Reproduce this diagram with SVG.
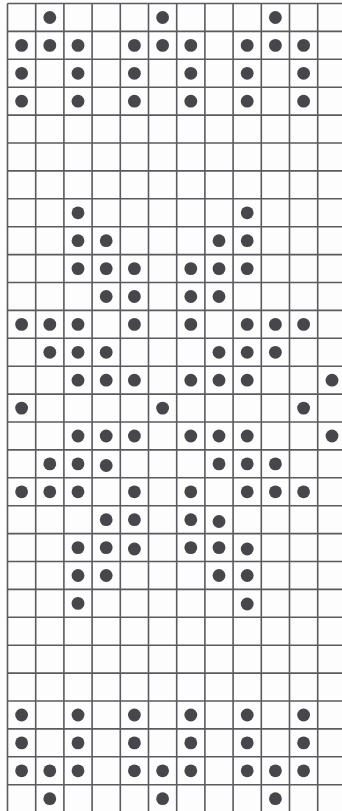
<svg xmlns="http://www.w3.org/2000/svg" xmlns:xlink="http://www.w3.org/1999/xlink" width="342" height="811" viewBox="0 0 342 811">
<style>
.grid{stroke:#5a5a60;stroke-width:1.6;fill:none}
.dot{fill:#46464c}
</style>
<defs>
<circle id="d" r="6.4" class="dot"/>
</defs>
<rect width="342" height="811" fill="#fdfdfd"/>
<g id="grid" class="grid">
<path d="M7.5 3.5V811M35.7 3.5V811M63.9 3.5V811M92.1 3.5V811M120.3 3.5V811M148.5 3.5V811M176.7 3.5V811M204.9 3.5V811M233.1 3.5V811M261.3 3.5V811M289.5 3.5V811M317.7 3.5V811"/>
<path d="M7.5 3.5H342M7.5 31.4H342M7.5 59.3H342M7.5 87.2H342M7.5 115.1H342M7.5 143H342M7.5 170.9H342M7.5 198.8H342M7.5 226.7H342M7.5 254.6H342M7.5 282.5H342M7.5 310.4H342M7.5 338.3H342M7.5 366.2H342M7.5 394.1H342M7.5 422H342M7.5 449.9H342M7.5 477.8H342M7.5 505.7H342M7.5 533.6H342M7.5 561.5H342M7.5 589.4H342M7.5 617.3H342M7.5 645.2H342M7.5 673.1H342M7.5 701H342M7.5 728.9H342M7.5 756.8H342M7.5 784.7H342"/>
</g>
<g id="dots">
<!-- row 0 y=17.5 -->
<use href="#d" x="49.8" y="17.5"/><use href="#d" x="162.6" y="17.5"/><use href="#d" x="275.4" y="17.5"/>
<!-- row 1 y=45.4 -->
<use href="#d" x="21.6" y="45.4"/><use href="#d" x="49.8" y="45.4"/><use href="#d" x="78" y="45.4"/><use href="#d" x="134.4" y="45.4"/><use href="#d" x="162.6" y="45.4"/><use href="#d" x="190.8" y="45.4"/><use href="#d" x="247.2" y="45.4"/><use href="#d" x="275.4" y="45.4"/><use href="#d" x="303.6" y="45.4"/>
<!-- row 2 y=73.3 -->
<use href="#d" x="21.6" y="73.3"/><use href="#d" x="78" y="73.3"/><use href="#d" x="134.4" y="73.3"/><use href="#d" x="190.8" y="73.3"/><use href="#d" x="247.2" y="73.3"/><use href="#d" x="303.6" y="73.3"/>
<!-- row 3 y=101.2 -->
<use href="#d" x="21.6" y="101.2"/><use href="#d" x="78" y="101.2"/><use href="#d" x="134.4" y="101.2"/><use href="#d" x="190.8" y="101.2"/><use href="#d" x="247.2" y="101.2"/><use href="#d" x="303.6" y="101.2"/>
<!-- row 7 y=212.8 -->
<use href="#d" x="78" y="212.8"/><use href="#d" x="247.2" y="212.8"/>
<!-- row 8 y=240.7 -->
<use href="#d" x="78" y="240.7"/><use href="#d" x="106.2" y="240.7"/><use href="#d" x="219" y="240.7"/><use href="#d" x="247.2" y="240.7"/>
<!-- row 9 y=268.6 -->
<use href="#d" x="78" y="268.6"/><use href="#d" x="106.2" y="268.6"/><use href="#d" x="134.4" y="268.6"/><use href="#d" x="190.8" y="268.6"/><use href="#d" x="219" y="268.6"/><use href="#d" x="247.2" y="268.6"/>
<!-- row 10 y=296.5 -->
<use href="#d" x="106.2" y="296.5"/><use href="#d" x="134.4" y="296.5"/><use href="#d" x="190.8" y="296.5"/><use href="#d" x="219" y="296.5"/>
<!-- row 11 y=324.4 -->
<use href="#d" x="21.6" y="324.4"/><use href="#d" x="49.8" y="324.4"/><use href="#d" x="78" y="324.4"/><use href="#d" x="134.4" y="324.4"/><use href="#d" x="190.8" y="324.4"/><use href="#d" x="247.2" y="324.4"/><use href="#d" x="275.4" y="324.4"/><use href="#d" x="303.6" y="324.4"/>
<!-- row 12 y=352.3 -->
<use href="#d" x="49.8" y="352.3"/><use href="#d" x="78" y="352.3"/><use href="#d" x="106.2" y="352.3"/><use href="#d" x="219" y="352.3"/><use href="#d" x="247.2" y="352.3"/><use href="#d" x="275.4" y="352.3"/>
<!-- row 13 y=380.2 -->
<use href="#d" x="78" y="380.2"/><use href="#d" x="106.2" y="380.2"/><use href="#d" x="134.4" y="380.2"/><use href="#d" x="190.8" y="380.2"/><use href="#d" x="219" y="380.2"/><use href="#d" x="247.2" y="380.2"/><use href="#d" x="332" y="380.2"/>
<!-- row 14 y=408.1 -->
<use href="#d" x="21.6" y="408.1"/><use href="#d" x="162.6" y="408.1"/><use href="#d" x="303.6" y="408.1"/>
<!-- row 15 y=436 -->
<use href="#d" x="78" y="436"/><use href="#d" x="106.2" y="436"/><use href="#d" x="134.4" y="436"/><use href="#d" x="190.8" y="436"/><use href="#d" x="219" y="436"/><use href="#d" x="247.2" y="436"/><use href="#d" x="332" y="436"/>
<!-- row 16 y=463.9 -->
<use href="#d" x="49.8" y="463.9"/><use href="#d" x="78" y="463.9"/><use href="#d" x="106.2" y="465.5"/><use href="#d" x="219" y="463.9"/><use href="#d" x="247.2" y="463.9"/><use href="#d" x="275.4" y="463.9"/>
<!-- row 17 y=491.8 -->
<use href="#d" x="21.6" y="491.8"/><use href="#d" x="49.8" y="491.8"/><use href="#d" x="78" y="491.8"/><use href="#d" x="134.4" y="491.8"/><use href="#d" x="190.8" y="491.8"/><use href="#d" x="247.2" y="491.8"/><use href="#d" x="275.4" y="491.8"/><use href="#d" x="303.6" y="491.8"/>
<!-- row 18 y=519.7 -->
<use href="#d" x="106.2" y="519.7"/><use href="#d" x="134.4" y="519.7"/><use href="#d" x="190.8" y="519.7"/><use href="#d" x="219" y="521.5"/>
<!-- row 19 y=547.6 -->
<use href="#d" x="78" y="547.6"/><use href="#d" x="106.2" y="547.6"/><use href="#d" x="134.4" y="549"/><use href="#d" x="190.8" y="547.6"/><use href="#d" x="219" y="547.6"/><use href="#d" x="247.2" y="549"/>
<!-- row 20 y=575.5 -->
<use href="#d" x="78" y="575.5"/><use href="#d" x="106.2" y="575.5"/><use href="#d" x="219" y="575.5"/><use href="#d" x="247.2" y="575.5"/>
<!-- row 21 y=603.4 -->
<use href="#d" x="78" y="603.4"/><use href="#d" x="247.2" y="604"/>
<!-- row 25 y=715 -->
<use href="#d" x="21.6" y="715"/><use href="#d" x="78" y="715"/><use href="#d" x="134.4" y="715"/><use href="#d" x="190.8" y="715"/><use href="#d" x="247.2" y="715"/><use href="#d" x="303.6" y="715"/>
<!-- row 26 y=742.9 -->
<use href="#d" x="21.6" y="742.9"/><use href="#d" x="78" y="742.9"/><use href="#d" x="134.4" y="742.9"/><use href="#d" x="190.8" y="742.9"/><use href="#d" x="247.2" y="742.9"/><use href="#d" x="303.6" y="742.9"/>
<!-- row 27 y=770.8 -->
<use href="#d" x="21.6" y="770.8"/><use href="#d" x="49.8" y="770.8"/><use href="#d" x="78" y="770.8"/><use href="#d" x="134.4" y="770.8"/><use href="#d" x="162.6" y="770.8"/><use href="#d" x="190.8" y="770.8"/><use href="#d" x="247.2" y="770.8"/><use href="#d" x="275.4" y="770.8"/><use href="#d" x="303.6" y="770.8"/>
<!-- row 28 y=798.7 -->
<use href="#d" x="49.8" y="798.7"/><use href="#d" x="162.6" y="798.7"/><use href="#d" x="275.4" y="798.7"/>
</g>
</svg>
